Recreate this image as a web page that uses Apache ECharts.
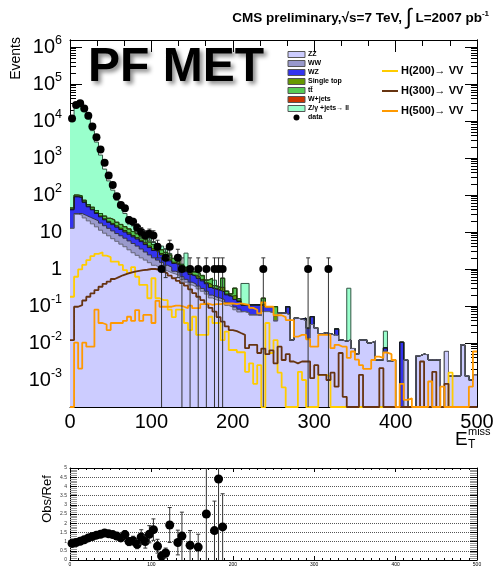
<!DOCTYPE html>
<html><head><meta charset="utf-8">
<script src="https://cdn.jsdelivr.net/npm/echarts@6/dist/echarts.min.js"></script>
<style>html,body{margin:0;padding:0;background:#fff}#c{width:501px;height:570px}</style>
</head><body><div id="c"></div>
<script>
// ---------- data (5 GeV bins, 0-500 GeV) ----------
const binWidth = 5;
const zz = [12.6,30.2,28.8,24.0,20.0,16.6,13.8,11.2,9.3,7.9,
 6.6,5.6,4.7,4.0,3.3,2.75,2.34,2.0,1.74,1.48,
 1.26,1.12,1.0,0.89,0.79,0.73,0.66,0.52,0.44,0.37,
 0.33,0.29,0.25,0.21,0.165,0.147,0.137,0.125,0.104,0.093,
 0.079,0.069,0.0708,0.066,0.0575,0.0575,0.055,0.0708,0.0708,0.066,
 0.040,0.0646,0.0646,0.0575,0.012,0.0468,0.0447,0.040,0.0135,0.0316,
 0.0251,0.0178,0.019,0.0178,0.0166,0.0158,0.012,0.0112,0.012,0.0071,
 0.005,0.012,0.012,0.010,0.0112,0.0035,0.0035,0.006,0.0032,0.0035,
 0,0,0.0035,0,0,0.0045,0.005,0.0048,0.0035,0.0035,
 0.0035,0,0.0059,0.0013,0.0013,0.0013,0.0089,0.0013,0.001,0.0014];
const ww = [0,1.4,2.8,4.2,5.1,5.8,6.2,6.2,5.5,4.7,
 4.1,3.5,3.2,2.8,2.45,2.15,1.83,1.47,1.14,0.92,
 0.74,0.62,0.51,0.37,0.33,0.14,0.13,0.1,0.085,0.071,
 0.063,0.056,0.048,0.04,0.032,0.028,0.026,0.024,0.02,0.018,
 0.015,0.013,0,0,0,0,0,0,0,0,
 0,0,0,0,0,0,0,0,0,0,
 0,0,0,0,0,0,0,0,0,0,
 0,0,0,0,0,0,0,0,0,0,
 0,0,0,0,0,0,0,0,0,0,
 0,0,0,0,0,0,0,0,0,0];
const wz = [27.2,57.5,53.5,34.9,22.8,17.4,11.6,8.3,6.6,5.6,
 5.1,4.4,3.8,3.2,2.95,2.5,2.29,2.03,1.69,1.4,
 1.16,1.08,0.89,0.74,0.54,0.54,0.48,0.38,0.32,0.27,
 0.24,0.21,0.18,0.15,0.12,0.107,0.1,0.091,0.076,0.068,
 0.057,0.05,0.036,0.041,0.05,0.05,0.052,0.025,0.025,0.03,
 0,0,0,0.038,0,0,0,0.0068,0.0116,0.02,
 0,0,0,0,0,0.0082,0,0,0,0,
 0,0,0,0,0,0,0,0.0014,0,0,
 0,0.0105,0,0,0,0,0,0,0,0,
 0,0,0,0,0,0,0,0,0,0];
const singleTop = [1.2,2.7,2.6,2.3,1.8,1.7,1.6,1.5,1.4,1.3,
 1.3,1.2,1.0,0.95,0.8,0.7,0.6,0.5,0.5,0.4,
 0.35,0.3,0.23,0.2,0.18,0.12,0.1,0.08,0.07,0.07,
 0.05,0.05,0.045,0.025,0.06,0.018,0.013,0.08,0.012,0.008,
 0.04,0.006,0,0,0,0,0,0.017,0,0,
 0.014,0,0,0,0,0,0,0,0,0,
 0,0,0,0,0,0,0,0,0,0,
 0,0,0,0,0,0,0,0,0,0,
 0,0,0,0,0,0,0,0,0,0,
 0,0,0,0,0,0,0,0,0,0];
const ttbar = [3.7,8.2,7.8,7.0,5.3,5.3,4.8,4.4,4.1,3.9,
 3.8,3.5,3.1,2.85,2.5,2.1,1.85,1.6,1.4,1.17,
 1.06,0.86,0.68,0.62,0.56,0.38,0.3,0.24,0.2,0.22,
 0.15,0.15,0.135,0.075,0.18,0.055,0.04,0.24,0.038,0.024,
 0.11,0.02,0,0,0,0,0,0.05,0,0,
 0.042,0,0,0,0,0,0,0,0,0,
 0,0,0,0,0,0,0,0,0,0,
 0,0,0,0,0,0,0,0,0,0,
 0,0,0,0,0,0,0,0,0,0,
 0,0,0,0,0,0,0,0,0,0];
const wjets = [0,0,0,0,0,0,0,0,0.2,0.3,
 0.5,0.3,0.3,0.2,0.2,0.2,0.1,0,0,0,
 0,0,0,0,0,0,0,0,0,0,
 0,0,0,0,0,0,0,0,0,0,
 0,0,0,0,0,0,0,0,0,0,
 0,0,0,0,0,0,0,0,0,0,
 0,0,0,0,0,0,0,0,0,0,
 0,0,0,0,0,0,0,0,0,0,
 0,0,0,0,0,0,0,0,0,0,
 0,0,0,0,0,0,0,0,0,0];
const zjets = [12840,28080,29420,19880,11430,5450,2654,1170,474,217,
 114,54,28.7,17.6,8.9,7.2,4.9,2.9,2.0,1.5,
 0.93,0.81,0.86,0.73,0.23,0.05,0.05,0.04,1.57,0.03,
 0.02,0.02,0.02,0.01,0.01,0.145,0.01,0.01,0.005,0.005,
 0.005,0,0.3,0.3,0,0,0,0,0,0,
 0,0,0,0,0,0,0,0,0,0,
 0,0,0,0,0,0,0,0,0.29,0,
 0,0,0,0,0,0,0,0.0135,0,0,
 0,0,0,0,0,0,0,0,0,0,
 0,0,0,0,0,0,0,0,0,0];
const h200 = [0.178,0.617,0.977,1.29,1.74,2.24,2.57,2.82,2.29,2.09,
 1.58,1.58,1.29,0.933,0.776,1.12,0.617,0.372,0.372,0.162,
 0.562,0.162,0.145,0.145,0.0794,0.0501,0.0794,0.0794,0.0347,0.0224,
 0.0513,0.0166,0.0166,0.0166,0.0513,0.0347,0.0347,0.012,0.0204,0.00646,
 0.00646,0.00562,0.00562,0.00166,0.00282,0.00079,0.00251,0,0.0347,0.00537,
 0.012,0.00158,0.00063,0,0,0,0.00166,0.001,0,0,
 0,0.00138,0.00138,0.00126,0,0,0,0,0,0,
 0,0,0,0,0,0,0,0,0,0,
 0,0,0,0,0,0,0,0,0,0,
 0,0,0,0.00158,0,0,0,0,0,0];
const h300 = [0.012,0.0955,0.105,0.141,0.178,0.219,0.269,0.331,0.398,0.457,
 0.537,0.603,0.676,0.741,0.794,0.851,0.891,0.933,0.955,1.0,
 1.0,0.955,0.851,0.759,0.661,0.562,0.479,0.417,0.355,0.282,
 0.224,0.178,0.145,0.112,0.0891,0.0708,0.0501,0.038,0.0282,0.0224,
 0.0209,0.0186,0.0166,0.00724,0.00891,0.00891,0.00537,0.00708,0.005,0.00631,
 0.00282,0.00794,0.00347,0.005,0.00316,0.00282,0.00316,0.00316,0.00316,0.00112,
 0.00251,0.00138,0.00138,0.001,0.00158,0.00066,0.00537,0.00035,0,0,
 0,0.00138,0,0,0,0,0.00209,0,0,0,
 0,0,0,0,0,0,0.00316,0,0,0.00166,
 0,0,0.00079,0,0,0,0,0,0,0];
const h500 = [0,0.0102,0.00204,0.0102,0.00794,0.00794,0.0794,0.0347,0.0316,0.0224,
 0.0347,0.0347,0.0347,0.0398,0.0513,0.0398,0.0776,0.0398,0.0575,0.0575,
 0.0347,0.138,0.0955,0.0955,0.0955,0.102,0.102,0.0955,0.0871,0.102,
 0.0871,0.0871,0.112,0.117,0.107,0.112,0.112,0.117,0.117,0.117,
 0.112,0.117,0.112,0.107,0.0891,0.0794,0.0631,0.126,0.0955,0.0955,
 0.0562,0.0562,0.0501,0.0417,0.0417,0.0148,0.0166,0.0166,0.0126,0.00794,
 0.00794,0.0166,0.0166,0.0166,0.00724,0.00891,0.00794,0.00794,0.00398,0.00589,
 0.00355,0.00251,0.002,0.002,0.00347,0.00427,0.00398,0.0055,0.005,0.00347,
 0,0.00079,0.00029,0.00032,0,0,0,0,0.00091,0,
 0,0.00066,0,0,0,0,0,0,0.00066,0.00589];
const obs = [11750,26900,30200,21900,13800,7080,3630,1700,741,339,
 186,93,54,44,21,19,13,10,8,9,
 8,4,1,2,4,0,2,1,0,1,
 0,1,0,1,0,1,1,1,0,0,
 0,0,0,0,0,0,0,1,0,0,
 0,0,0,0,0,0,0,0,1,0,
 0,0,0,1,0,0,0,0,0,0,
 0,0,0,0,0,0,0,0,0,0,
 0,0,0,0,0,0,0,0,0,0,
 0,0,0,0,0,0,0,0,0,0];
const ratio = [0.9,0.95,1.02,1.1,1.2,1.28,1.35,1.4,1.47,1.42,
 1.38,1.3,1.2,1.38,1.0,1.05,0.85,1.25,1.0,1.4,
 1.65,0.75,0.22,0.38,1.9,null,0.95,1.3,null,0.8,
 null,0.7,null,2.5,null,1.6,4.4,1.8];
const yMajor = [-3,-2,-1,0,1,2,3,4,5,6];

// ---------- build ----------
const FONT = '"Liberation Sans", Arial, Helvetica, sans-serif';
const LOG_MIN = -3.73, LOG_MAX = 6.19;
const nb = zz.length;
const lowEdge = zz.map((_, i) => i * binWidth);
function stepData(vals, zeroAtFloor) {
  const d = vals.map((v, i) => [lowEdge[i], v > 0 ? Math.log10(v) : (zeroAtFloor ? LOG_MIN : -10)]);
  d.push([nb * binWidth, d[d.length - 1][1]]);
  return d;
}
const comps = [
  {name:'ZZ', v:zz, fill:'#ccccff', line:'#666677'},
  {name:'WW', v:ww, fill:'#9999cc', line:'#333344'},
  {name:'WZ', v:wz, fill:'#3333ee', line:'#111133'},
  {name:'Single top', v:singleTop, fill:'#669900', line:'#223300'},
  {name:'tt\u0304', v:ttbar, fill:'#55cc55', line:'#115511'},
  {name:'W+jets', v:wjets, fill:'#cc3300', line:'#551100'},
  {name:'Z/\u03b3 +jets\u2192 ll', v:zjets, fill:'#99ffcc', line:'#335544'}
];
const cum = []; let run = zz.map(() => 0);
comps.forEach(c => { run = run.map((r, i) => r + c.v[i]); cum.push(run.slice()); });

const series = [];
for (let k = comps.length - 1; k >= 0; k--) {
  series.push({type:'line', xAxisIndex:0, yAxisIndex:0, step:'end', symbol:'none', silent:true,
    data: stepData(cum[k], false), clip:true,
    lineStyle:{color:comps[k].line, width:1}, itemStyle:{color:comps[k].fill},
    areaStyle:{color:comps[k].fill, opacity:1, origin:'start'}, z:2});
}
const higgs = [
  {v:h200, c:'#ffcc00', n:'H(200)\u2192 VV'},
  {v:h300, c:'#663311', n:'H(300)\u2192 VV'},
  {v:h500, c:'#ff9900', n:'H(500)\u2192 VV'}
];
higgs.forEach(h => series.push({type:'line', xAxisIndex:0, yAxisIndex:0, step:'end', symbol:'none', silent:true,
  data: stepData(h.v, true), clip:true, lineStyle:{color:h.c, width:1.8}, z:3}));

const dataPts = [];
obs.forEach((n, i) => { if (n > 0) dataPts.push([lowEdge[i] + binWidth / 2, n]); });
series.push({type:'custom', xAxisIndex:0, yAxisIndex:0, data:dataPts, z:5, silent:true,
  renderItem:(p, api) => {
    const x = api.value(0), n = api.value(1), s = Math.sqrt(n);
    const c = api.coord([x, Math.log10(n)]);
    const up = api.coord([x, Math.min(LOG_MAX, Math.log10(n + s))]);
    const loV = n - s > 0 ? Math.log10(n - s) : LOG_MIN;
    const lo = api.coord([x, Math.max(LOG_MIN, loV)]);
    const st = {stroke:'#333', lineWidth:1};
    const ch = [{type:'line', shape:{x1:c[0], y1:lo[1], x2:c[0], y2:up[1]}, style:st},
      {type:'line', shape:{x1:c[0]-2, y1:up[1], x2:c[0]+2, y2:up[1]}, style:st}];
    if (loV > LOG_MIN) ch.push({type:'line', shape:{x1:c[0]-2, y1:lo[1], x2:c[0]+2, y2:lo[1]}, style:st});
    ch.push({type:'circle', shape:{cx:c[0], cy:c[1], r:4}, style:{fill:'#000'}});
    return {type:'group', children:ch};
  }});

const ratioPts = [];
ratio.forEach((r, i) => { if (r != null && obs[i] > 0) ratioPts.push([lowEdge[i] + binWidth / 2, r, obs[i]]); });
series.push({type:'custom', xAxisIndex:2, yAxisIndex:4, data:ratioPts, z:5, silent:true,
  renderItem:(p, api) => {
    const x = api.value(0), r = api.value(1), n = api.value(2), e = r / Math.sqrt(n);
    const c = api.coord([x, Math.min(r, 5)]);
    const upV = Math.min(5, r + e), loV = Math.max(0, r - e);
    const up = api.coord([x, upV]), lo = api.coord([x, loV]);
    const st = {stroke:'#333', lineWidth:1};
    const ch = [{type:'line', shape:{x1:c[0], y1:lo[1], x2:c[0], y2:up[1]}, style:st}];
    if (upV < 5) ch.push({type:'line', shape:{x1:c[0]-2, y1:up[1], x2:c[0]+2, y2:up[1]}, style:st});
    if (loV > 0) ch.push({type:'line', shape:{x1:c[0]-2, y1:lo[1], x2:c[0]+2, y2:lo[1]}, style:st});
    if (r <= 5) ch.push({type:'circle', shape:{cx:c[0], cy:c[1], r:4.5}, style:{fill:'#000'}});
    return {type:'group', children:ch};
  }});

// minor log ticks
const yMinor = [];
for (let e = -4; e <= 6; e++) for (let k = 2; k <= 9; k++) {
  const v = e + Math.log10(k); if (v > LOG_MIN && v < LOG_MAX) yMinor.push(v);
}
const black = {lineStyle:{color:'#000', width:1}};
function xAx(grid, pos, showLabel, fs) {
  return {gridIndex:grid, type:'value', min:0, max:500, interval:100, position:pos,
    axisLine:{show:true, onZero:false, ...black}, splitLine:{show:false},
    axisTick:{inside:true, length: grid === 0 ? 12 : 4, ...black},
    minorTick:{show:true, splitNumber: grid === 0 ? 3 : 10, length: grid === 0 ? 6 : 2, ...black},
    axisLabel:{show:showLabel, fontSize:fs, fontFamily:FONT, color:'#000', margin: grid === 0 ? 5 : 2}};
}
function yLog(pos, vals, len, labels) {
  return {gridIndex:0, type:'value', min:LOG_MIN, max:LOG_MAX, position:pos,
    axisLine:{show:true, onZero:false, ...black}, splitLine:{show:false},
    axisTick:{inside:true, length:len, customValues:vals, ...black},
    axisLabel:labels ? {show:true, customValues:yMajor, margin:8, color:'#000',
      formatter: v => { const e = Math.round(v); if (e === 0) return '{b|1}'; if (e === 1) return '{b|10}'; return '{b|10}{s|' + e + '}'; },
      rich:{b:{fontSize:20, fontFamily:FONT, color:'#000'}, s:{fontSize:12.5, fontFamily:FONT, color:'#000', padding:[0,0,13,0]}}}
      : {show:false}};
}
function yRatio(pos, labels) {
  return {gridIndex:1, type:'value', min:0, max:5, interval:0.5, position:pos,
    axisLine:{show:true, onZero:false, ...black},
    splitLine:{show:labels, lineStyle:{color:'#555', type:'dotted', width:1}},
    axisTick:{inside:true, length:7, ...black},
    minorTick:{show:true, splitNumber:5, length:7, lineStyle:{color:'#999', width:1}},
    axisLabel:{show:labels, fontSize:5, fontFamily:FONT, color:'#333', margin:3}};
}

const graphic = [];
function txt(x, y, text, font, opts) {
  graphic.push(Object.assign({type:'text', silent:true, style:Object.assign({x, y, text, font, fill:'#000',
    align:'left', verticalAlign:'middle', textAlign:'left', textVerticalAlign:'middle'}, opts && opts.style || {})},
    opts && opts.el || {}));
}
// title
graphic.push({type:'text', silent:true, style:{x:489, y:18, align:'right', textAlign:'right', verticalAlign:'middle', textVerticalAlign:'middle',
  text:'{a|CMS preliminary,\u221As=7 TeV, }{i|\u222b}{a| L=2007 pb}{s|-1}',
  rich:{a:{fontSize:13.5, fontWeight:'bold', fontFamily:FONT, color:'#000'},
    i:{fontSize:22, fontFamily:FONT, color:'#000'},
    s:{fontSize:8, fontWeight:'bold', fontFamily:FONT, color:'#000', padding:[0,0,9,0]}}}});
// PF MET
txt(88, 68, 'PF MET', 'bold 48px ' + FONT, {style:{textShadowColor:'rgba(0,0,0,0.45)', textShadowBlur:4, textShadowOffsetX:3, textShadowOffsetY:3}});
// axis titles
txt(16, 37, 'Events', '14px ' + FONT, {style:{align:'right', textAlign:'right'}, el:{rotation:Math.PI/2, originX:16, originY:37}});
txt(47, 499, 'Obs/Ref', '13px ' + FONT, {style:{align:'center', textAlign:'center'}, el:{rotation:Math.PI/2, originX:47, originY:499}});
txt(455, 440, 'E', '19px ' + FONT);
txt(468, 432, 'miss', '11px ' + FONT);
txt(468, 445, 'T', '12px ' + FONT);
// legend
const legY = [54.5, 63.5, 72.5, 81.5, 90.5, 99.5, 108.5];
comps.forEach((c, i) => {
  graphic.push({type:'rect', silent:true, shape:{x:288, y:legY[i]-3, width:17, height:6}, style:{fill:c.fill, stroke:'#555', lineWidth:1}});
  txt(308, legY[i], c.name, 'bold 7px ' + FONT);
});
graphic.push({type:'circle', silent:true, shape:{cx:296.5, cy:117.5, r:3}, style:{fill:'#000'}});
txt(308, 117.5, 'data', 'bold 7px ' + FONT);
const hY = [71, 91, 111];
higgs.forEach((h, i) => {
  graphic.push({type:'line', silent:true, shape:{x1:382, y1:hY[i], x2:398, y2:hY[i]}, style:{stroke:h.c, lineWidth:2}});
  txt(401, hY[i], h.n, 'bold 11px ' + FONT);
});

const chart = echarts.init(document.getElementById('c'), null, {renderer:'canvas'});
chart.setOption({
  animation:false, backgroundColor:'#fff',
  grid:[{left:70, top:40, width:407, height:367}, {left:70, top:468, width:407, height:92}],
  xAxis:[xAx(0,'bottom',true,20), xAx(0,'top',false,20), xAx(1,'bottom',true,5), xAx(1,'top',false,5)],
  yAxis:[yLog('left', yMajor, 12, true), yLog('left', yMinor, 6, false), yLog('right', yMajor, 12, false), yLog('right', yMinor, 6, false),
    yRatio('left', true), yRatio('right', false)],
  series, graphic
});
</script></body></html>
